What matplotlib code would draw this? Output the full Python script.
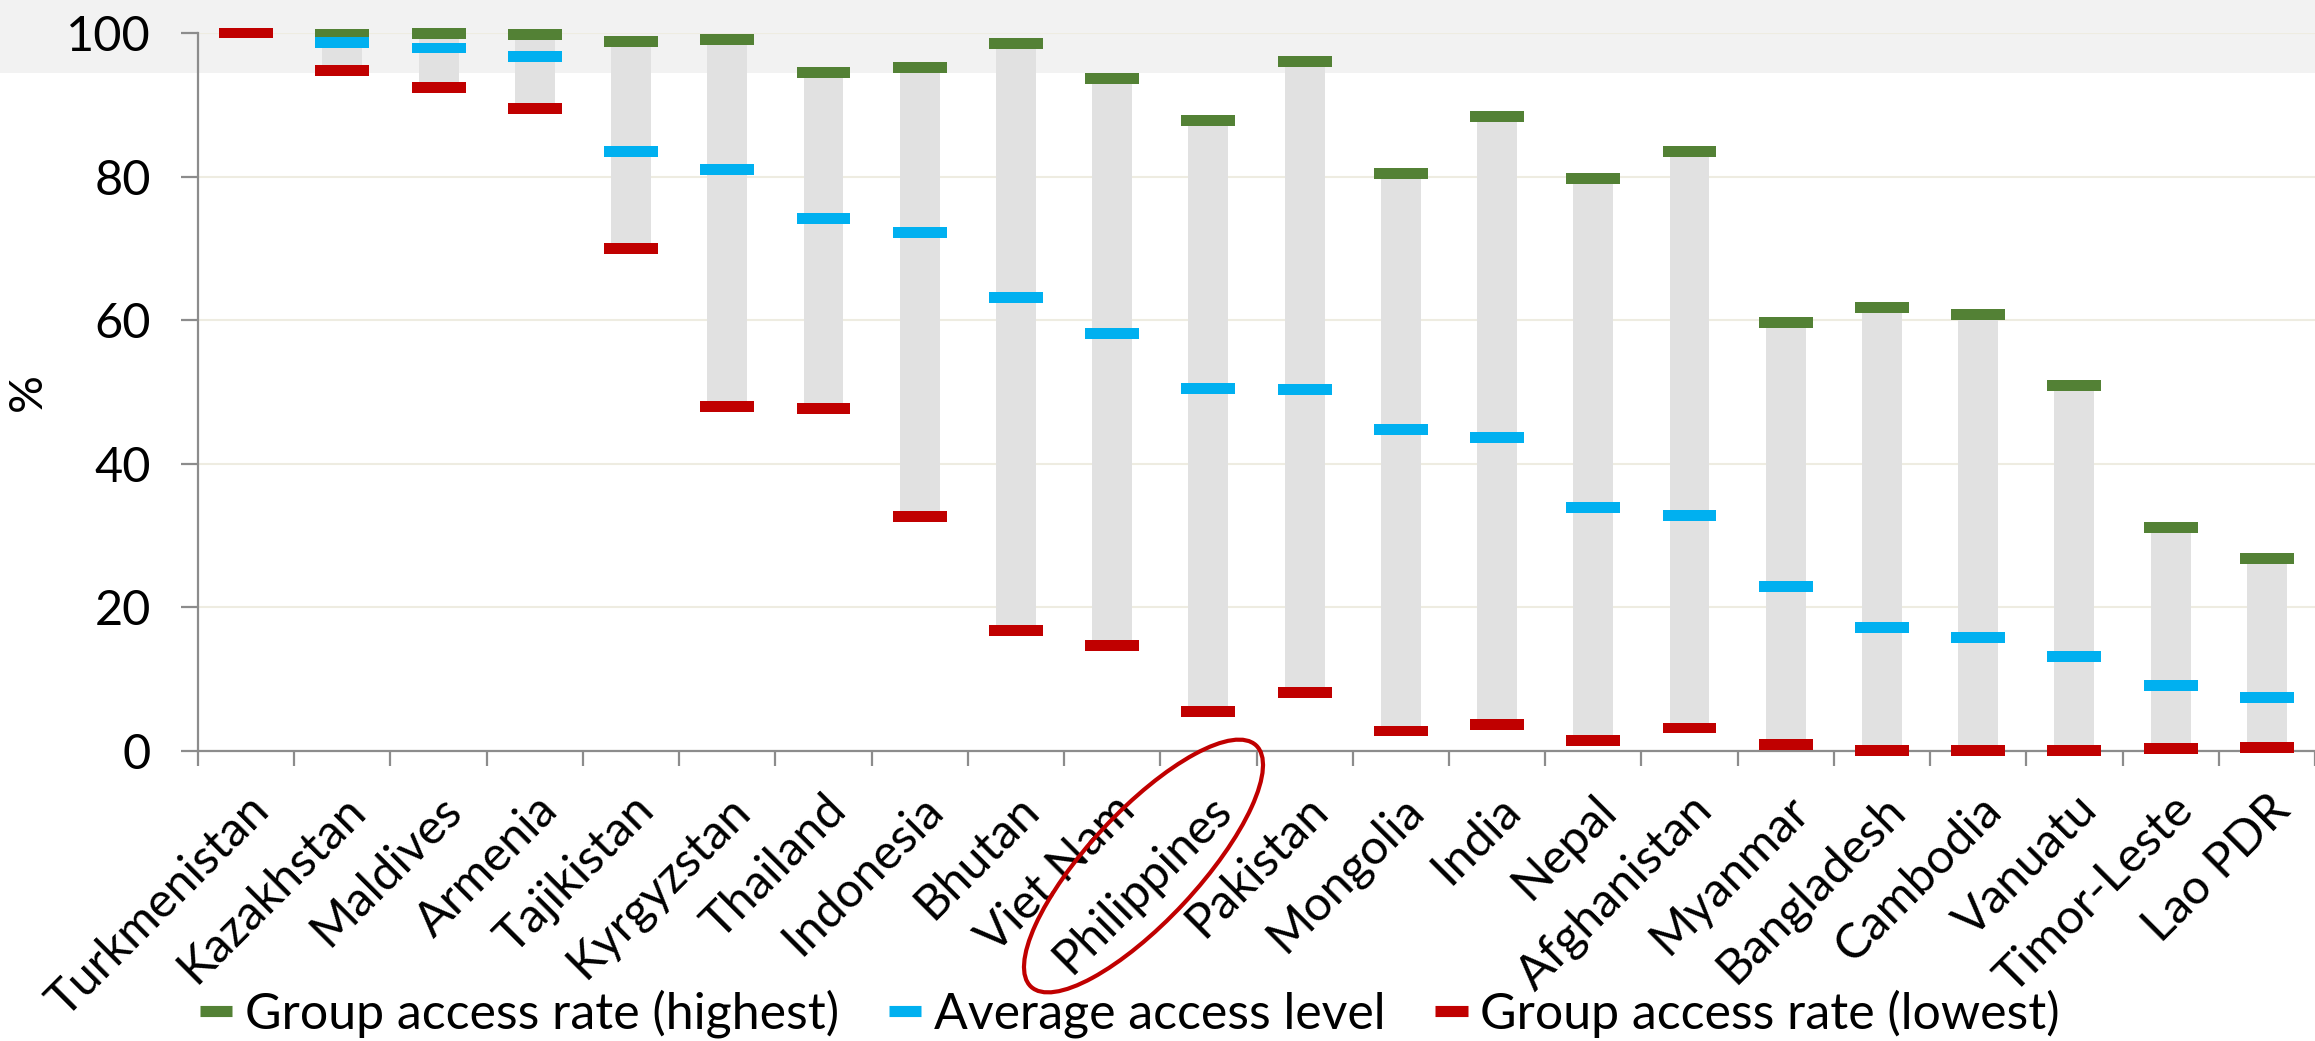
import matplotlib

matplotlib.use('Agg')
import matplotlib.pyplot as plt
from matplotlib.lines import Line2D
from matplotlib.patches import Rectangle, Ellipse
import numpy as np

plt.rcParams['font.family'] = ['Lato', 'DejaVu Sans']

countries = ["Turkmenistan", "Kazakhstan", "Maldives", "Armenia", "Tajikistan",
             "Kyrgyzstan", "Thailand", "Indonesia", "Bhutan", "Viet Nam",
             "Philippines", "Pakistan", "Mongolia", "India", "Nepal",
             "Afghanistan", "Myanmar", "Bangladesh", "Cambodia", "Vanuatu",
             "Timor-Leste", "Lao PDR"]
highest = [100, 99.8, 99.9, 99.8, 98.8, 99.1, 94.5, 95.2, 98.5, 93.7, 87.8,
           96.0, 80.4, 88.4, 79.7, 83.5, 59.7, 61.8, 60.8, 50.9, 31.1, 26.8]
average = [100, 98.7, 97.9, 96.7, 83.5, 81.0, 74.2, 72.2, 63.2, 58.1, 50.5,
           50.3, 44.8, 43.7, 33.9, 32.8, 22.9, 17.2, 15.8, 13.2, 9.1, 7.5]
lowest = [100, 94.8, 92.4, 89.5, 70.0, 48.0, 47.7, 32.7, 16.8, 14.7, 5.5,
          8.2, 2.8, 3.7, 1.5, 3.2, 0.9, 0.1, 0.1, 0.1, 0.4, 0.5]

labels = ["Group access rate (highest)", "Average access level",
          "Group access rate (lowest)"]
green, blue, red = "#538135", "#00b0f0", "#c00000"

W, H = 2315, 1041
fig = plt.figure(figsize=(W / 100, H / 100), dpi=100)

# light grey band across the top
fig.patches.append(Rectangle((0, 1 - 73 / H), 1, 73 / H, transform=fig.transFigure,
                             facecolor="#f2f2f2", edgecolor="none", zorder=-5))

ax = fig.add_axes([198 / W, (H - 751) / H, (W - 198) / W, (751 - 33) / H])
ax.patch.set_visible(False)

x = np.arange(len(countries))
hi = np.array(highest)
av = np.array(average)
lo = np.array(lowest)

ax.bar(x, hi - lo, bottom=lo, width=0.415, color="#e1e1e1", zorder=2)
th = 1.5
for vals, c in [(hi, green), (av, blue), (lo, red)]:
    ax.bar(x, th, bottom=vals - th / 2, width=0.56, color=c, zorder=3, clip_on=False)

ax.set_xlim(-0.5, -0.5 + (W - 198) / 96.5)
ax.set_ylim(0, 100)
ax.set_yticks([0, 20, 40, 60, 80, 100])
ax.grid(axis="y", color="#eeece1", lw=1.5, zorder=0)
ax.set_axisbelow(True)

for s in ["top", "right"]:
    ax.spines[s].set_visible(False)
for s in ["left", "bottom"]:
    ax.spines[s].set_color("#8c8c8c")
    ax.spines[s].set_linewidth(1.6)

ax.tick_params(axis="y", direction="out", length=12, width=1.6, color="#8c8c8c",
               labelsize=35, pad=22)
ax.set_xticks(x)
ax.set_xticklabels(countries, rotation=45, ha="right", rotation_mode="anchor",
                   fontsize=35)
ax.tick_params(axis="x", length=0, pad=26)
ax.set_xticks(np.arange(len(countries) + 1) - 0.5, minor=True)
ax.tick_params(axis="x", which="minor", direction="out", length=11, width=1.6,
               color="#8c8c8c")

fig.text(28 / W, 1 - 392 / H, "%", rotation=90, fontsize=34, ha="center", va="center")

handles = [Line2D([0], [0], color=c, lw=8, solid_capstyle="butt") for c in (green, blue, red)]
fig.legend(handles, labels, loc="center", bbox_to_anchor=(0.488, 27 / H), ncol=3,
           frameon=False, fontsize=36, handlelength=0.65, handletextpad=0.25,
           columnspacing=1.0, borderaxespad=0)

fig.patches.append(Ellipse((11.435, (H - 866) / 100), 3.30, 1.10, angle=47,
                           transform=fig.dpi_scale_trans, fill=False,
                           edgecolor=red, lw=3, zorder=10))

fig.savefig("out.png", dpi=100)
